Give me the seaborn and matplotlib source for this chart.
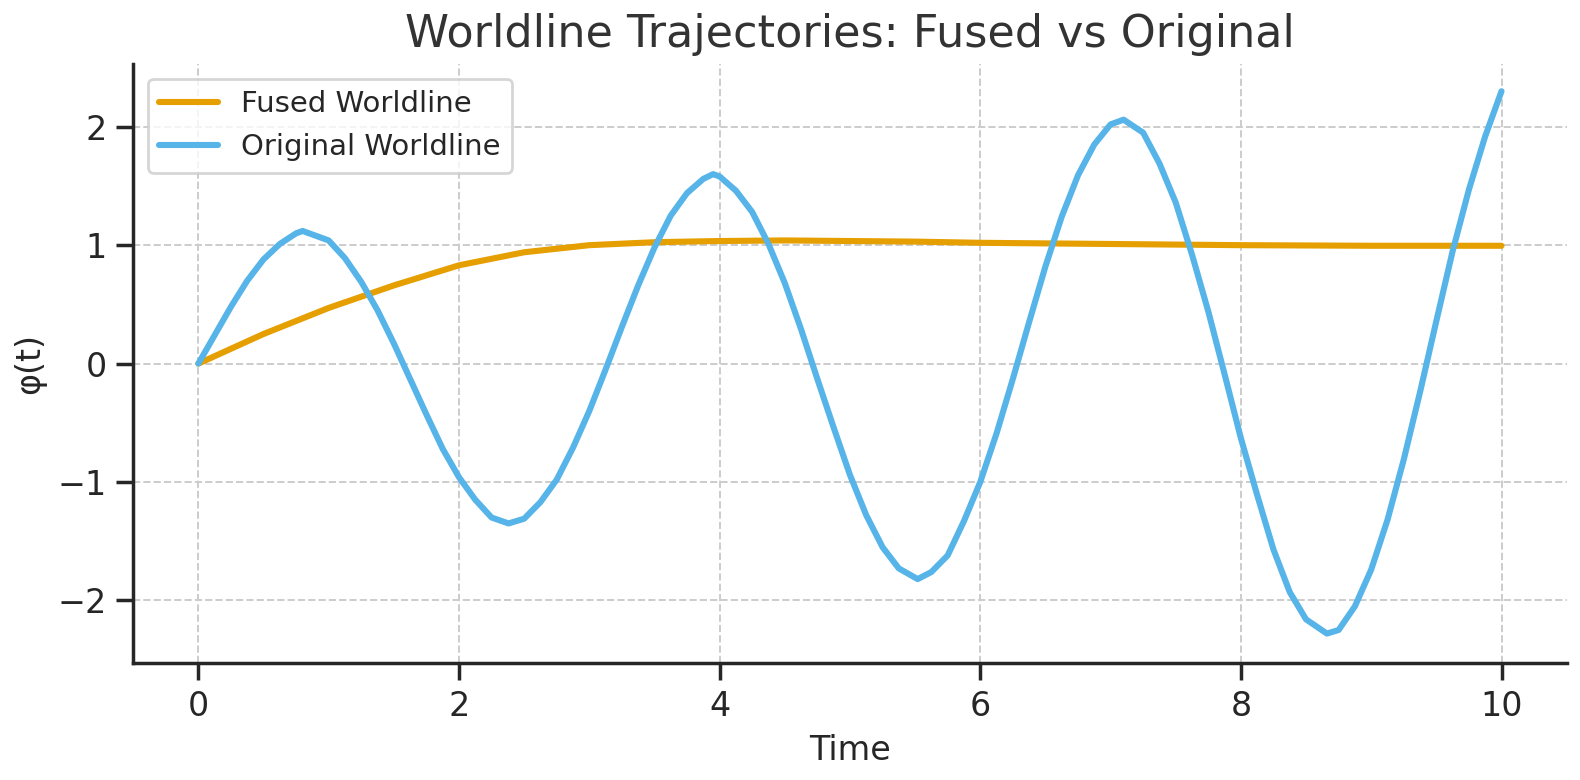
import matplotlib
matplotlib.use("Agg")
import matplotlib.pyplot as plt
import seaborn as sns

orig_t = [0, 0.125, 0.25, 0.375, 0.5, 0.625, 0.75, 0.8, 0.875, 1.0, 1.125, 1.25, 1.375, 1.5, 1.625, 1.75, 1.875,
          2.0, 2.125, 2.25, 2.38, 2.5, 2.625, 2.75, 2.875, 3.0, 3.125, 3.25, 3.375, 3.5, 3.625, 3.75, 3.875,
          3.95, 4.0, 4.125, 4.25, 4.375, 4.5, 4.625, 4.75, 4.875, 5.0, 5.125, 5.25, 5.375, 5.52, 5.625, 5.75,
          5.875, 6.0, 6.125, 6.25, 6.375, 6.5, 6.625, 6.75, 6.875, 7.0, 7.1, 7.25, 7.375, 7.5, 7.625,
          7.75, 7.875, 8.0, 8.125, 8.25, 8.375, 8.5, 8.66, 8.75, 8.875, 9.0, 9.125, 9.25, 9.375, 9.5, 9.625,
          9.75, 9.875, 10.0]
orig_y = [0, 0.24, 0.48, 0.70, 0.88, 1.01, 1.10, 1.12, 1.09, 1.04, 0.89, 0.69, 0.45, 0.17, -0.13, -0.43, -0.72,
          -0.96, -1.15, -1.30, -1.35, -1.31, -1.17, -0.98, -0.71, -0.40, -0.05, 0.31, 0.66, 0.98, 1.25, 1.44, 1.56,
          1.60, 1.58, 1.46, 1.28, 1.01, 0.68, 0.29, -0.13, -0.54, -0.94, -1.28, -1.55, -1.73, -1.82, -1.76, -1.62,
          -1.33, -1.00, -0.59, -0.13, 0.35, 0.82, 1.24, 1.59, 1.85, 2.02, 2.06, 1.95, 1.69, 1.36, 0.92,
          0.44, -0.09, -0.63, -1.11, -1.57, -1.93, -2.16, -2.28, -2.25, -2.05, -1.74, -1.32, -0.81, -0.24, 0.36, 0.95,
          1.47, 1.92, 2.30]
fused_t = [0, 0.5, 1, 1.5, 2, 2.5, 3, 3.5, 4, 4.5, 5, 5.5, 6, 7, 8, 9, 10]
fused_y = [0, 0.25, 0.47, 0.66, 0.83, 0.94, 1.0, 1.025, 1.035, 1.04, 1.035, 1.03, 1.02, 1.01, 1.0, 0.995, 0.995]

sns.set_theme(style="ticks")
fig, ax = plt.subplots(figsize=(7.9, 3.9), dpi=200)
sns.lineplot(x=fused_t, y=fused_y, ax=ax, color="#E69F00", lw=2.2, label="Fused Worldline")
sns.lineplot(x=orig_t, y=orig_y, ax=ax, color="#56B4E9", lw=2.2, label="Original Worldline")
ax.grid(True, linestyle="--", color="#cccccc", linewidth=0.7)
sns.despine(ax=ax)
ax.set_title("Worldline Trajectories: Fused vs Original", fontsize=16, color="#333333")
ax.set_xlabel("Time", fontsize=12)
ax.set_ylabel("φ(t)", fontsize=12)
ax.tick_params(labelsize=12)
ax.set_ylim(-2.53, 2.53)
ax.set_xlim(-0.5, 10.5)
ax.legend(loc="upper left", fontsize=10.5)
fig.tight_layout(pad=0.4)
fig.savefig("out.png")
